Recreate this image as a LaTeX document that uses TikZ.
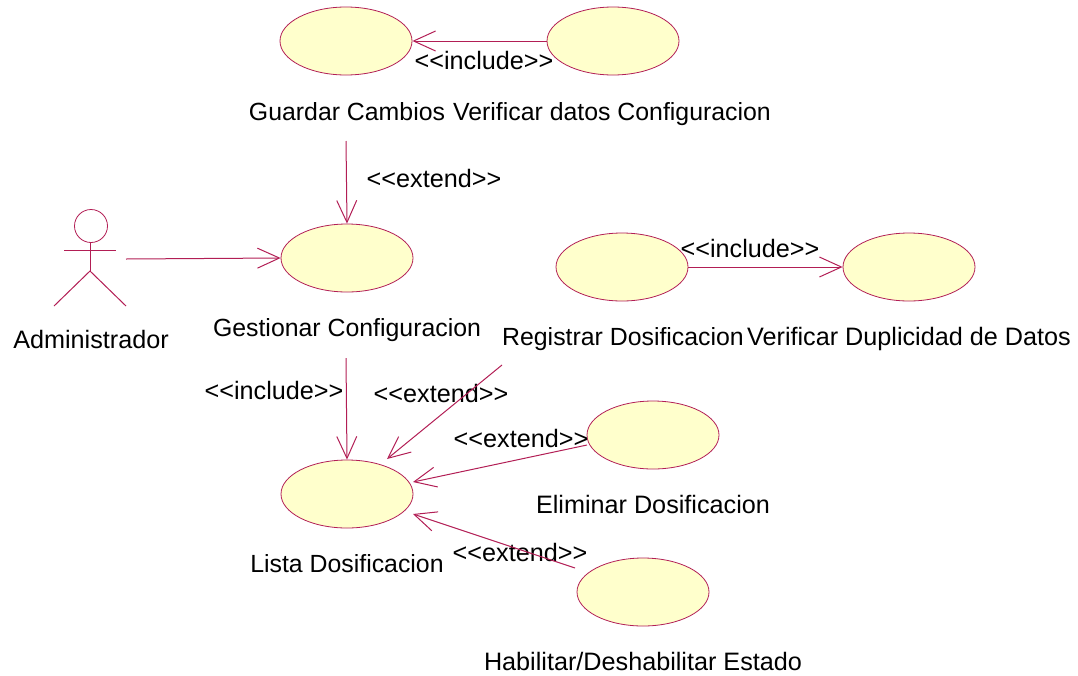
\documentclass[tikz,border=0pt]{standalone}
\usepackage{fontspec}
\setmainfont{Liberation Sans}
\usetikzlibrary{arrows.meta,shapes.geometric}
\definecolor{umlline}{RGB}{178,30,85}
\definecolor{umlfill}{RGB}{255,255,204}
\newcommand{\stereotxt}[1]{{<}{<}#1{>}{>}}
\tikzset{
  usecase/.style={ellipse,draw=umlline,fill=umlfill,line width=0.8pt,minimum width=132pt,minimum height=68pt,inner sep=0pt},
  lbl/.style={text=black,font=\fontsize{25.2}{28}\selectfont,inner sep=0pt,anchor=base},
  lbln/.style={lbl,font=\fontsize{24.85}{28}\selectfont},
  rel/.style={draw=umlline,line width=1pt,-{Straight Barb[length=22pt,width=20pt,line width=1pt]},shorten >=0pt},
  actorline/.style={draw=umlline,line width=1pt}
}
\begin{document}
\begin{tikzpicture}[x=1pt,y=-1pt]
\useasboundingbox (0,0) rectangle (1078,675);
\node[usecase] (guardar) at (346,41) {};
\node[usecase] (verifconf) at (613,41) {};
\node[usecase] (gestionar) at (347,258) {};
\node[usecase] (registrar) at (622,267) {};
\node[usecase] (verifdup) at (909,267) {};
\node[usecase] (lista) at (347,494) {};
\node[usecase] (eliminar) at (653,435) {};
\node[usecase] (habilitar) at (643,592) {};

\node[lbln] (tguardar) at (347,120) {Guardar Cambios};
\node[lbln] (tverifconf) at (612,120) {Verificar datos Configuracion};
\node[lbln] (tgestionar) at (347,336) {Gestionar Configuracion};
\node[lbln] (tregistrar) at (623,345) {Registrar Dosificacion};
\node[lbl] (tverifdup) at (909,345) {Verificar Duplicidad de Datos};
\node[lbln] (tlista) at (347,572) {Lista Dosificacion};
\node[lbl] (teliminar) at (653,513) {Eliminar Dosificacion};
\node[lbl] (thabilitar) at (643,670) {Habilitar/Deshabilitar Estado};
\node[lbl] (tadmin) at (91,348) {Administrador};

\node[lbl] (l1) at (484,69) {\stereotxt{include}};
\node[lbl] (l2) at (434,187) {\stereotxt{extend}};
\node[lbl] (l3) at (750,257) {\stereotxt{include}};
\node[lbl] (l4) at (274,399) {\stereotxt{include}};
\node[lbl] (l5) at (441,402) {\stereotxt{extend}};
\node[lbl] (l6) at (521,447) {\stereotxt{extend}};
\node[lbl] (l7) at (520,561) {\stereotxt{extend}};

% actor
\node[circle,draw=umlline,line width=0.8pt,minimum size=33pt,inner sep=0pt] (head) at (91,226) {};
\coordinate (neck) at (90,242);
\coordinate (hip) at (90,271);
\coordinate (armL) at (64,250);
\coordinate (armR) at (116,250);
\coordinate (legL) at (54,306);
\coordinate (legR) at (126,306);
\draw[actorline] (neck) -- (hip);
\draw[actorline] (armL) -- (armR);
\draw[actorline] (legL) -- (hip) -- (legR);

\coordinate (aStart) at (126,259);
\coordinate (gTop) at (346,141);
\coordinate (gBot) at (346,358);
\coordinate (rEnd) at (502,365);
\coordinate (rTip) at (387,459);
\coordinate (eStart) at (587,445);
\coordinate (eTip) at (413,482);
\coordinate (hEnd) at (575,568);
\coordinate (hTip) at (413,514);
\draw[rel] (aStart) -- (gestionar.west);
\draw[rel] (verifconf.west) -- (guardar.east);
\draw[rel] (gTop) -- (gestionar.north);
\draw[rel] (registrar.east) -- (verifdup.west);
\draw[rel] (gBot) -- (lista.north);
\draw[rel] (rEnd) -- (rTip);
\draw[rel] (eStart) -- (eTip);
\draw[rel] (hEnd) -- (hTip);
\end{tikzpicture}
\end{document}
